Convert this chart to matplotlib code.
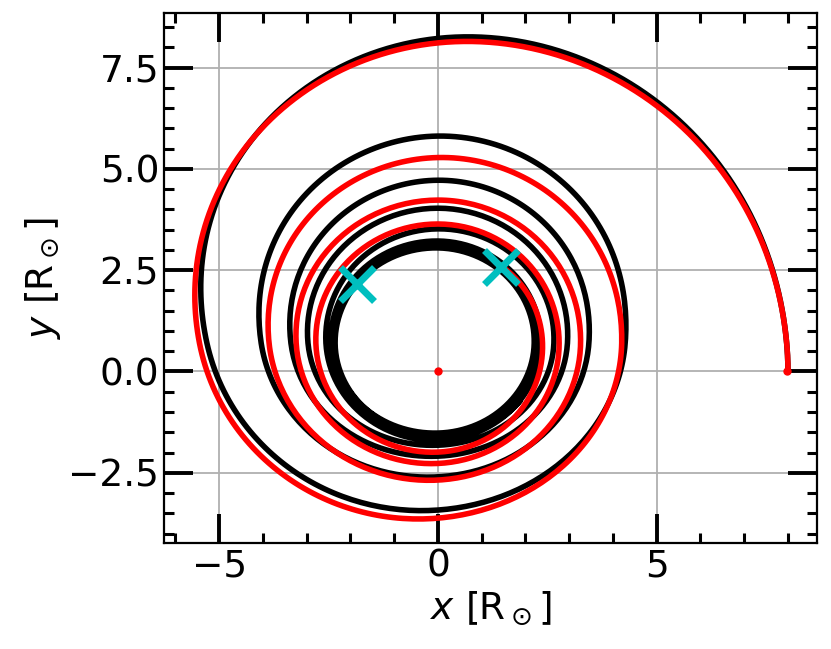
import numpy as np
import matplotlib
matplotlib.use("Agg")
import matplotlib.pyplot as plt
from matplotlib.ticker import MultipleLocator

# ---- data (polar readings about the orbit centre) ----
center_x, center_y = 0.0, 0.7

black_theta_deg = [-5, 0, 90, 180, 270, 360, 450, 540, 630, 720, 810, 900, 990,
                   1080, 1170, 1260, 1350, 1440, 1530, 1620, 1710, 1800, 1890,
                   1980, 2070, 2160, 2250, 2340, 2430, 2520, 2610, 2700, 2790,
                   2843.6]
black_r = [8.03, 7.97, 7.52, 5.28, 4.12, 4.28, 5.11, 4.04, 3.30, 3.45, 4.02,
           3.36, 2.79, 2.96, 3.33, 2.97, 2.52, 2.65, 2.82, 2.56, 2.40, 2.35,
           2.52, 2.45, 2.32, 2.25, 2.40, 2.40, 2.22, 2.20, 2.35, 2.35, 2.30,
           2.36]

red_theta_deg = [-5, 0, 90, 180, 270, 360, 450, 540, 630, 720, 810, 900, 990,
                 1080, 1170, 1260, 1350, 1440, 1492.6]
red_r = [8.03, 7.97, 7.41, 5.45, 4.32, 4.20, 4.58, 3.86, 3.38, 3.26, 3.53,
         3.24, 2.97, 2.77, 2.94, 2.79, 2.69, 2.39, 2.39]

end_marker_x = [-1.85, 1.45]
end_marker_y = [2.15, 2.58]
dot_x = [0.0, 7.98]
dot_y = [0.0, 0.0]


def smooth_polar(theta_deg, r, n=60):
    t = np.radians(np.asarray(theta_deg, float))
    r = np.asarray(r, float)
    m = np.gradient(r, t)
    ts, rs = [], []
    for i in range(len(t) - 1):
        h = t[i + 1] - t[i]
        s = np.linspace(0, 1, n, endpoint=False)
        h00 = 2 * s**3 - 3 * s**2 + 1
        h10 = s**3 - 2 * s**2 + s
        h01 = -2 * s**3 + 3 * s**2
        h11 = s**3 - s**2
        ts.append(t[i] + s * h)
        rs.append(h00 * r[i] + h10 * h * m[i] + h01 * r[i + 1] + h11 * h * m[i + 1])
    ts.append([t[-1]])
    rs.append([r[-1]])
    ts = np.concatenate(ts)
    rs = np.concatenate(rs)
    return center_x + rs * np.cos(ts), center_y + rs * np.sin(ts)


fig = plt.figure(figsize=(8.31, 6.49), dpi=100)
ax = fig.add_axes([0.1974, 0.1629, 0.9835 - 0.1974, 0.9795 - 0.1629])

bx, by = smooth_polar(black_theta_deg, black_r)
rx, ry = smooth_polar(red_theta_deg, red_r)

ax.plot(bx, by, color="black", lw=4.0, solid_capstyle="butt", zorder=3)
ax.plot(rx, ry, color="red", lw=4.0, solid_capstyle="butt", zorder=4)
ax.plot(dot_x, dot_y, "o", color="red", ms=5, zorder=5)
ax.plot(end_marker_x, end_marker_y, "x", color="c", ms=24, mew=5, zorder=6)

ax.set_xlim(-6.26, 8.67)
ax.set_ylim(-4.24, 8.84)

ax.xaxis.set_major_locator(MultipleLocator(5))
ax.xaxis.set_minor_locator(MultipleLocator(1))
ax.yaxis.set_major_locator(MultipleLocator(2.5))
ax.yaxis.set_minor_locator(MultipleLocator(0.5))

ax.grid(True, which="major", color="#b0b0b0", lw=1.3, zorder=0)
ax.set_axisbelow(True)

ax.tick_params(which="both", direction="in", top=True, right=True,
               labelsize=27)
ax.tick_params(which="major", length=21, width=2.8)
ax.tick_params(which="minor", length=7, width=2.2)
for s in ax.spines.values():
    s.set_linewidth(1.6)

ax.set_xlabel(r"$x$ [R$_\odot$]", fontsize=27)
ax.set_ylabel(r"$y$ [R$_\odot$]", fontsize=27)

fig.savefig("out.png", dpi=100)
